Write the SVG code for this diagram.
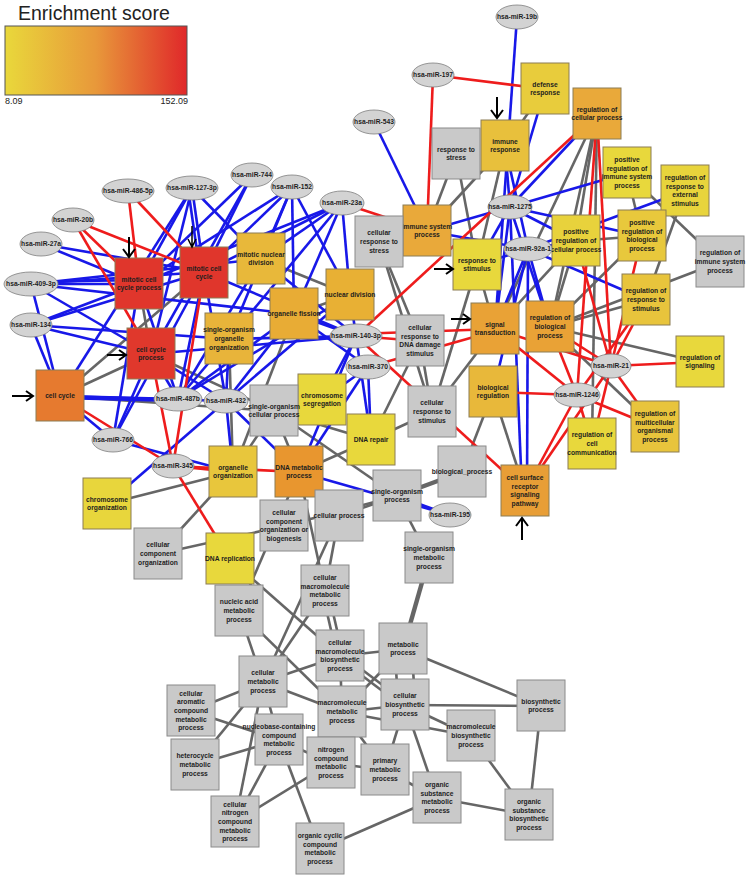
<svg xmlns="http://www.w3.org/2000/svg" width="748" height="879" viewBox="0 0 748 879">
<defs>
<linearGradient id="lg" x1="0" y1="0" x2="1" y2="0">
<stop offset="0" stop-color="#E9D83B"/><stop offset="0.5" stop-color="#E8983A"/><stop offset="1" stop-color="#E0282A"/>
</linearGradient>
</defs>
<style>
.b line{stroke:#1818E8;stroke-width:2.6}
.r line{stroke:#EE1C1C;stroke-width:2.6}
.g line{stroke:#666;stroke-width:2.6}
.go rect{stroke:#8b7d55;stroke-width:1}
.gy rect{fill:#C9C9C9;stroke:#8a8a8a;stroke-width:1}
.mi ellipse{fill:#D3D3D3;stroke:#7d7d7d;stroke-width:0.8}
text{font-family:"Liberation Sans",Arial,sans-serif;font-size:6.7px;font-weight:bold;fill:#1e1e1e;text-anchor:middle}
.lt{font-size:19.5px;font-weight:normal;text-anchor:start;fill:#222}
.ln{font-size:9px;font-weight:normal;fill:#222}
.ar path{stroke:#000;fill:none;stroke-width:2}
</style>
<rect width="748" height="879" fill="#fff"/>
<g id="legend">
<text class="lt" x="18" y="20">Enrichment score</text>
<rect x="5" y="26" width="182" height="69" fill="url(#lg)" stroke="#555" stroke-width="1"/>
<text class="ln" x="5" y="104" style="text-anchor:start">8.09</text>
<text class="ln" x="188" y="104" style="text-anchor:end">152.09</text>
</g>
<g id="edges">
<g class="g">
<line x1="60" y1="396" x2="151" y2="354"/><line x1="139" y1="284" x2="151" y2="354"/><line x1="60" y1="396" x2="204" y2="272"/>
<line x1="261" y1="259" x2="350" y2="295"/><line x1="294" y1="314" x2="350" y2="295"/><line x1="229" y1="339" x2="233" y2="472"/>
<line x1="294" y1="314" x2="233" y2="472"/><line x1="60" y1="396" x2="274" y2="411"/><line x1="151" y1="354" x2="274" y2="411"/>
<line x1="233" y1="472" x2="107" y2="504"/><line x1="233" y1="472" x2="158" y2="554"/><line x1="158" y1="554" x2="284" y2="526"/>
<line x1="233" y1="472" x2="274" y2="411"/><line x1="274" y1="411" x2="397" y2="496"/><line x1="274" y1="411" x2="299" y2="472"/>
<line x1="274" y1="411" x2="371" y2="440"/><line x1="371" y1="440" x2="299" y2="472"/><line x1="420" y1="341" x2="371" y2="440"/>
<line x1="432" y1="412" x2="371" y2="440"/><line x1="420" y1="341" x2="432" y2="412"/><line x1="379" y1="242" x2="420" y2="341"/>
<line x1="379" y1="242" x2="432" y2="412"/><line x1="456" y1="154" x2="427" y2="231"/><line x1="456" y1="154" x2="477" y2="265"/>
<line x1="505" y1="146" x2="427" y2="231"/><line x1="545" y1="89" x2="505" y2="146"/><line x1="505" y1="146" x2="477" y2="265"/>
<line x1="477" y1="265" x2="432" y2="412"/><line x1="432" y1="412" x2="495" y2="329"/><line x1="477" y1="265" x2="495" y2="329"/>
<line x1="597" y1="114" x2="576" y2="241"/><line x1="597" y1="114" x2="550" y2="327"/><line x1="597" y1="114" x2="592" y2="444"/>
<line x1="597" y1="114" x2="495" y2="329"/><line x1="576" y1="241" x2="495" y2="329"/><line x1="576" y1="241" x2="642" y2="236"/>
<line x1="627" y1="173" x2="642" y2="236"/><line x1="627" y1="173" x2="720" y2="262"/><line x1="685" y1="191" x2="646" y2="300"/>
<line x1="720" y1="262" x2="550" y2="327"/><line x1="642" y1="236" x2="550" y2="327"/><line x1="576" y1="241" x2="550" y2="327"/>
<line x1="646" y1="300" x2="550" y2="327"/><line x1="550" y1="327" x2="700" y2="362"/><line x1="550" y1="327" x2="655" y2="427"/>
<line x1="493" y1="392" x2="525" y2="491"/><line x1="462" y1="472" x2="493" y2="392"/>
<line x1="397" y1="496" x2="462" y2="472" style="stroke-width:4.5"/><line x1="397" y1="496" x2="429" y2="558"/>
<line x1="429" y1="558" x2="403" y2="649" style="stroke-width:4.5"/>
<line x1="299" y1="472" x2="325" y2="591"/><line x1="299" y1="472" x2="239" y2="611"/><line x1="339" y1="516" x2="325" y2="591"/>
<line x1="339" y1="516" x2="397" y2="496"/><line x1="284" y1="526" x2="397" y2="496"/><line x1="230" y1="559" x2="340" y2="656"/>
<line x1="239" y1="611" x2="263" y2="682"/><line x1="239" y1="611" x2="342" y2="712"/><line x1="325" y1="591" x2="263" y2="682"/>
<line x1="339" y1="516" x2="263" y2="682"/><line x1="322" y1="591" x2="337" y2="656"/><line x1="328" y1="591" x2="343" y2="656"/>
<line x1="263" y1="682" x2="191" y2="711"/><line x1="263" y1="682" x2="195" y2="765"/><line x1="263" y1="682" x2="235" y2="822"/>
<line x1="191" y1="711" x2="279" y2="740"/><line x1="195" y1="765" x2="279" y2="740"/><line x1="263" y1="682" x2="340" y2="656"/>
<line x1="263" y1="682" x2="342" y2="712"/><line x1="263" y1="682" x2="279" y2="740"/><line x1="340" y1="656" x2="403" y2="649"/>
<line x1="340" y1="653" x2="405" y2="702"/><line x1="340" y1="659" x2="405" y2="708"/><line x1="340" y1="656" x2="342" y2="712"/>
<line x1="342" y1="712" x2="405" y2="705"/><line x1="342" y1="712" x2="471" y2="736"/><line x1="342" y1="712" x2="385" y2="770"/>
<line x1="395" y1="649" x2="398" y2="705"/><line x1="412" y1="649" x2="415" y2="705"/><line x1="403" y1="649" x2="342" y2="712"/>
<line x1="403" y1="649" x2="541" y2="706"/><line x1="405" y1="705" x2="541" y2="706"/><line x1="405" y1="705" x2="471" y2="736"/>
<line x1="405" y1="705" x2="385" y2="770"/><line x1="405" y1="705" x2="437" y2="798"/><line x1="471" y1="736" x2="529" y2="815"/>
<line x1="541" y1="706" x2="529" y2="815"/><line x1="437" y1="798" x2="529" y2="815"/><line x1="385" y1="770" x2="437" y2="798"/>
<line x1="279" y1="740" x2="331" y2="763"/><line x1="331" y1="763" x2="385" y2="770"/><line x1="331" y1="763" x2="235" y2="822"/>
<line x1="279" y1="740" x2="320" y2="849"/><line x1="320" y1="849" x2="437" y2="798"/><line x1="279" y1="740" x2="235" y2="822"/>
</g>
<g class="b">
<line x1="31" y1="284" x2="139" y2="284"/><line x1="31" y1="282" x2="139" y2="280"/><line x1="31" y1="284" x2="204" y2="272"/><line x1="31" y1="284" x2="261" y2="259"/>
<line x1="31" y1="284" x2="294" y2="314"/><line x1="31" y1="284" x2="151" y2="354"/><line x1="31" y1="284" x2="60" y2="396"/>
<line x1="31" y1="325" x2="60" y2="396"/><line x1="31" y1="325" x2="139" y2="284"/><line x1="31" y1="325" x2="204" y2="272"/>
<line x1="31" y1="325" x2="151" y2="354"/><line x1="31" y1="325" x2="229" y2="339"/>
<line x1="41" y1="244" x2="139" y2="284"/><line x1="41" y1="244" x2="204" y2="272"/>
<line x1="192" y1="188" x2="139" y2="284"/><line x1="192" y1="188" x2="204" y2="272"/><line x1="188" y1="188" x2="200" y2="272"/><line x1="192" y1="188" x2="151" y2="354"/>
<line x1="192" y1="188" x2="60" y2="396"/><line x1="192" y1="188" x2="261" y2="259"/>
<line x1="252" y1="175" x2="204" y2="272"/><line x1="252" y1="175" x2="139" y2="284"/><line x1="252" y1="175" x2="151" y2="354"/>
<line x1="292" y1="187" x2="261" y2="259"/><line x1="292" y1="187" x2="204" y2="272"/><line x1="292" y1="187" x2="139" y2="284"/>
<line x1="292" y1="187" x2="294" y2="314"/><line x1="292" y1="187" x2="350" y2="295"/><line x1="292" y1="187" x2="229" y2="339"/>
<line x1="342" y1="203" x2="261" y2="259"/><line x1="342" y1="203" x2="204" y2="272"/><line x1="342" y1="203" x2="139" y2="284"/>
<line x1="342" y1="203" x2="294" y2="314"/><line x1="342" y1="203" x2="229" y2="339"/><line x1="342" y1="203" x2="350" y2="295"/>
<line x1="178" y1="399" x2="60" y2="396"/><line x1="178" y1="401" x2="60" y2="398"/><line x1="178" y1="399" x2="151" y2="354"/><line x1="178" y1="399" x2="204" y2="272"/>
<line x1="178" y1="399" x2="139" y2="284"/><line x1="178" y1="399" x2="229" y2="339"/><line x1="178" y1="399" x2="294" y2="314"/>
<line x1="178" y1="399" x2="350" y2="295"/><line x1="178" y1="399" x2="261" y2="259"/>
<line x1="226" y1="401" x2="60" y2="396"/><line x1="226" y1="401" x2="151" y2="354"/><line x1="226" y1="401" x2="204" y2="272"/>
<line x1="226" y1="401" x2="229" y2="339"/><line x1="226" y1="401" x2="294" y2="314"/><line x1="226" y1="401" x2="350" y2="295"/>
<line x1="226" y1="401" x2="233" y2="472"/><line x1="226" y1="401" x2="107" y2="504"/><line x1="226" y1="401" x2="299" y2="472"/>
<line x1="113" y1="440" x2="60" y2="396"/><line x1="113" y1="440" x2="151" y2="354"/><line x1="113" y1="440" x2="139" y2="284"/>
<line x1="113" y1="440" x2="204" y2="272"/><line x1="113" y1="440" x2="233" y2="472"/>
<line x1="356" y1="336" x2="294" y2="314"/><line x1="356" y1="336" x2="350" y2="295"/><line x1="356" y1="336" x2="261" y2="259"/>
<line x1="356" y1="336" x2="229" y2="339"/><line x1="356" y1="336" x2="322" y2="400"/><line x1="356" y1="336" x2="151" y2="354"/>
<line x1="356" y1="336" x2="204" y2="272"/><line x1="356" y1="336" x2="299" y2="472"/><line x1="356" y1="336" x2="371" y2="440"/>
<line x1="368" y1="367" x2="322" y2="400"/><line x1="368" y1="367" x2="371" y2="440"/><line x1="368" y1="367" x2="294" y2="314"/>
<line x1="368" y1="367" x2="299" y2="472"/>
<line x1="450" y1="515" x2="397" y2="496"/><line x1="450" y1="515" x2="299" y2="472"/>
<line x1="374" y1="122" x2="427" y2="231"/>
<line x1="517" y1="17" x2="495" y2="329"/>
<line x1="510" y1="207" x2="427" y2="231"/><line x1="510" y1="207" x2="477" y2="265"/><line x1="510" y1="207" x2="505" y2="146"/>
<line x1="510" y1="207" x2="545" y2="89"/><line x1="510" y1="207" x2="627" y2="173"/><line x1="510" y1="207" x2="576" y2="241"/>
<line x1="510" y1="207" x2="642" y2="236"/><line x1="510" y1="207" x2="597" y2="114"/><line x1="510" y1="207" x2="495" y2="329"/>
<line x1="510" y1="207" x2="550" y2="327"/><line x1="510" y1="207" x2="522" y2="491"/>
<line x1="528" y1="249" x2="427" y2="231"/><line x1="528" y1="249" x2="477" y2="265"/><line x1="528" y1="249" x2="505" y2="146"/>
<line x1="528" y1="249" x2="495" y2="329"/><line x1="528" y1="249" x2="550" y2="327"/><line x1="528" y1="249" x2="527" y2="491"/>
<line x1="528" y1="249" x2="493" y2="392"/><line x1="528" y1="249" x2="576" y2="241"/><line x1="528" y1="249" x2="685" y2="191"/>
<line x1="528" y1="249" x2="646" y2="300"/>
</g>
<g class="r">
<line x1="128" y1="191" x2="139" y2="284"/><line x1="128" y1="191" x2="204" y2="272"/>
<line x1="73" y1="220" x2="139" y2="284"/><line x1="73" y1="220" x2="151" y2="354"/><line x1="73" y1="220" x2="204" y2="272"/>
<line x1="342" y1="203" x2="427" y2="231"/>
<line x1="433" y1="75" x2="427" y2="231"/><line x1="433" y1="75" x2="545" y2="89"/>
<line x1="356" y1="336" x2="597" y2="114"/><line x1="356" y1="336" x2="420" y2="341"/><line x1="356" y1="334" x2="495" y2="329"/>
<line x1="356" y1="336" x2="525" y2="491"/>
<line x1="368" y1="367" x2="495" y2="331"/>
<line x1="173" y1="466" x2="233" y2="472"/><line x1="173" y1="466" x2="151" y2="354"/><line x1="173" y1="466" x2="204" y2="272"/>
<line x1="173" y1="466" x2="230" y2="559"/><line x1="173" y1="466" x2="60" y2="396"/><line x1="173" y1="466" x2="299" y2="472"/>
<line x1="611" y1="366" x2="700" y2="362"/><line x1="611" y1="366" x2="655" y2="427"/><line x1="611" y1="366" x2="592" y2="444"/>
<line x1="611" y1="366" x2="646" y2="300"/><line x1="611" y1="366" x2="550" y2="327"/><line x1="611" y1="366" x2="642" y2="236"/>
<line x1="611" y1="366" x2="597" y2="114"/><line x1="611" y1="366" x2="495" y2="329"/><line x1="611" y1="366" x2="525" y2="491"/>
<line x1="611" y1="366" x2="576" y2="241"/>
<line x1="577" y1="395" x2="493" y2="392"/><line x1="577" y1="395" x2="525" y2="491"/><line x1="577" y1="395" x2="597" y2="114"/>
<line x1="577" y1="395" x2="646" y2="300"/><line x1="577" y1="395" x2="655" y2="427"/><line x1="577" y1="395" x2="495" y2="329"/>
<line x1="577" y1="395" x2="550" y2="327"/><line x1="577" y1="395" x2="592" y2="444"/>
</g>
</g>
<g id="nodes">
<g id="n-mccp" class="go"><rect x="115" y="258" width="48" height="51" fill="#E0362C"/><text x="139" y="281.6">mitotic cell<tspan x="139" dy="8.6">cycle process</tspan></text></g>
<g id="n-mcc" class="go"><rect x="180" y="247" width="48" height="51" fill="#E0362C"/><text x="204" y="270.6">mitotic cell<tspan x="204" dy="8.6">cycle</tspan></text></g>
<g id="n-mnd" class="go"><rect x="237" y="233" width="48" height="51" fill="#E8B83A"/><text x="261" y="256.6">mitotic nuclear<tspan x="261" dy="8.6">division</tspan></text></g>
<g id="n-of" class="go"><rect x="270" y="288" width="48" height="51" fill="#E8AC35"/><text x="294" y="315.9">organelle fission</text></g>
<g id="n-nd" class="go"><rect x="326" y="269" width="48" height="51" fill="#E8B034"/><text x="350" y="296.9">nuclear division</text></g>
<g id="n-sooo" class="go"><rect x="205" y="313" width="48" height="51" fill="#E8B43A"/><text x="229" y="332.3">single-organism<tspan x="229" dy="8.6">organelle</tspan><tspan x="229" dy="8.6">organization</tspan></text></g>
<g id="n-ccp" class="go"><rect x="127" y="328" width="48" height="51" fill="#E0382C"/><text x="151" y="351.6">cell cycle<tspan x="151" dy="8.6">process</tspan></text></g>
<g id="n-cc" class="go"><rect x="36" y="370" width="48" height="51" fill="#E67A2F"/><text x="60" y="397.9">cell cycle</text></g>
<g id="n-cs" class="go"><rect x="298" y="374" width="48" height="51" fill="#E8D83C"/><text x="322" y="397.6">chromosome<tspan x="322" dy="8.6">segregation</tspan></text></g>
<g id="n-socp" class="gy"><rect x="250" y="385" width="48" height="51"/><text x="274" y="408.6">single-organism<tspan x="274" dy="8.6">cellular process</tspan></text></g>
<g id="n-dnarep" class="go"><rect x="347" y="414" width="48" height="51" fill="#E8D83C"/><text x="371" y="441.9">DNA repair</text></g>
<g id="n-dnamp" class="go"><rect x="275" y="446" width="48" height="51" fill="#E8962F"/><text x="299" y="469.6">DNA metabolic<tspan x="299" dy="8.6">process</tspan></text></g>
<g id="n-oo" class="go"><rect x="209" y="446" width="48" height="51" fill="#E8C63C"/><text x="233" y="469.6">organelle<tspan x="233" dy="8.6">organization</tspan></text></g>
<g id="n-co" class="go"><rect x="83" y="478" width="48" height="51" fill="#E8D63C"/><text x="107" y="501.6">chromosome<tspan x="107" dy="8.6">organization</tspan></text></g>
<g id="n-cco" class="gy"><rect x="134" y="528" width="48" height="51"/><text x="158" y="547.3">cellular<tspan x="158" dy="8.6">component</tspan><tspan x="158" dy="8.6">organization</tspan></text></g>
<g id="n-dnarepl" class="go"><rect x="206" y="533" width="48" height="51" fill="#E8D83C"/><text x="230" y="560.9">DNA replication</text></g>
<g id="n-ccob" class="gy"><rect x="260" y="500" width="48" height="51"/><text x="284" y="515">cellular<tspan x="284" dy="8.6">component</tspan><tspan x="284" dy="8.6">organization or</tspan><tspan x="284" dy="8.6">biogenesis</tspan></text></g>
<g id="n-cp" class="gy"><rect x="315" y="490" width="48" height="51"/><text x="339" y="517.9">cellular process</text></g>
<g id="n-sop" class="gy"><rect x="373" y="470" width="48" height="51"/><text x="397" y="493.6">single-organism<tspan x="397" dy="8.6">process</tspan></text></g>
<g id="n-bp" class="gy"><rect x="438" y="446" width="48" height="51"/><text x="462" y="473.9">biological_process</text></g>
<g id="n-somp" class="gy"><rect x="405" y="532" width="48" height="51"/><text x="429" y="551.3">single-organism<tspan x="429" dy="8.6">metabolic</tspan><tspan x="429" dy="8.6">process</tspan></text></g>
<g id="n-crs" class="gy"><rect x="408" y="386" width="48" height="51"/><text x="432" y="405.3">cellular<tspan x="432" dy="8.6">response to</tspan><tspan x="432" dy="8.6">stimulus</tspan></text></g>
<g id="n-crdna" class="gy"><rect x="396" y="315" width="48" height="51"/><text x="420" y="330">cellular<tspan x="420" dy="8.6">response to</tspan><tspan x="420" dy="8.6">DNA damage</tspan><tspan x="420" dy="8.6">stimulus</tspan></text></g>
<g id="n-st" class="go"><rect x="471" y="303" width="48" height="51" fill="#E9A236"/><text x="495" y="326.6">signal<tspan x="495" dy="8.6">transduction</tspan></text></g>
<g id="n-br" class="go"><rect x="469" y="366" width="48" height="51" fill="#E8B83A"/><text x="493" y="389.6">biological<tspan x="493" dy="8.6">regulation</tspan></text></g>
<g id="n-rbp" class="go"><rect x="526" y="301" width="48" height="51" fill="#E9A236"/><text x="550" y="320.3">regulation of<tspan x="550" dy="8.6">biological</tspan><tspan x="550" dy="8.6">process</tspan></text></g>
<g id="n-rrs" class="go"><rect x="622" y="274" width="48" height="51" fill="#E8C43C"/><text x="646" y="293.3">regulation of<tspan x="646" dy="8.6">response to</tspan><tspan x="646" dy="8.6">stimulus</tspan></text></g>
<g id="n-rs" class="go"><rect x="676" y="336" width="48" height="51" fill="#E8D83C"/><text x="700" y="359.6">regulation of<tspan x="700" dy="8.6">signaling</tspan></text></g>
<g id="n-rmop" class="go"><rect x="631" y="401" width="48" height="51" fill="#E8C43C"/><text x="655" y="416">regulation of<tspan x="655" dy="8.6">multicellular</tspan><tspan x="655" dy="8.6">organismal</tspan><tspan x="655" dy="8.6">process</tspan></text></g>
<g id="n-rcc" class="go"><rect x="568" y="418" width="48" height="51" fill="#E8D83C"/><text x="592" y="437.3">regulation of<tspan x="592" dy="8.6">cell</tspan><tspan x="592" dy="8.6">communication</tspan></text></g>
<g id="n-csrsp" class="go"><rect x="501" y="465" width="48" height="51" fill="#E89E36"/><text x="525" y="480">cell surface<tspan x="525" dy="8.6">receptor</tspan><tspan x="525" dy="8.6">signaling</tspan><tspan x="525" dy="8.6">pathway</tspan></text></g>
<g id="n-dr" class="go"><rect x="521" y="63" width="48" height="51" fill="#E8CC3C"/><text x="545" y="86.6">defense<tspan x="545" dy="8.6">response</tspan></text></g>
<g id="n-rcp" class="go"><rect x="573" y="88" width="48" height="51" fill="#E9A93A"/><text x="597" y="111.6">regulation of<tspan x="597" dy="8.6">cellular process</tspan></text></g>
<g id="n-prisp" class="go"><rect x="603" y="147" width="48" height="51" fill="#E8D83C"/><text x="627" y="162">positive<tspan x="627" dy="8.6">regulation of</tspan><tspan x="627" dy="8.6">immune system</tspan><tspan x="627" dy="8.6">process</tspan></text></g>
<g id="n-rres" class="go"><rect x="661" y="165" width="48" height="51" fill="#E8D43C"/><text x="685" y="180">regulation of<tspan x="685" dy="8.6">response to</tspan><tspan x="685" dy="8.6">external</tspan><tspan x="685" dy="8.6">stimulus</tspan></text></g>
<g id="n-prcp" class="go"><rect x="552" y="215" width="48" height="51" fill="#E8D23C"/><text x="576" y="234.3">positive<tspan x="576" dy="8.6">regulation of</tspan><tspan x="576" dy="8.6">cellular process</tspan></text></g>
<g id="n-prbp" class="go"><rect x="618" y="210" width="48" height="51" fill="#E8C83C"/><text x="642" y="225">positive<tspan x="642" dy="8.6">regulation of</tspan><tspan x="642" dy="8.6">biological</tspan><tspan x="642" dy="8.6">process</tspan></text></g>
<g id="n-risp" class="gy"><rect x="696" y="236" width="48" height="51"/><text x="720" y="255.3">regulation of<tspan x="720" dy="8.6">immune system</tspan><tspan x="720" dy="8.6">process</tspan></text></g>
<g id="n-rtstress" class="gy"><rect x="432" y="128" width="48" height="51"/><text x="456" y="151.6">response to<tspan x="456" dy="8.6">stress</tspan></text></g>
<g id="n-ir" class="go"><rect x="481" y="120" width="48" height="51" fill="#E8C03C"/><text x="505" y="143.6">immune<tspan x="505" dy="8.6">response</tspan></text></g>
<g id="n-isp" class="go"><rect x="403" y="205" width="48" height="51" fill="#E9A93A"/><text x="427" y="228.6">immune system<tspan x="427" dy="8.6">process</tspan></text></g>
<g id="n-crstress" class="gy"><rect x="355" y="216" width="48" height="51"/><text x="379" y="235.3">cellular<tspan x="379" dy="8.6">response to</tspan><tspan x="379" dy="8.6">stress</tspan></text></g>
<g id="n-rstim" class="go"><rect x="453" y="239" width="48" height="51" fill="#E8D83C"/><text x="477" y="262.6">response to<tspan x="477" dy="8.6">stimulus</tspan></text></g>
<g id="n-cmmp" class="gy"><rect x="301" y="565" width="48" height="51"/><text x="325" y="580">cellular<tspan x="325" dy="8.6">macromolecule</tspan><tspan x="325" dy="8.6">metabolic</tspan><tspan x="325" dy="8.6">process</tspan></text></g>
<g id="n-namp" class="gy"><rect x="215" y="585" width="48" height="51"/><text x="239" y="604.3">nucleic acid<tspan x="239" dy="8.6">metabolic</tspan><tspan x="239" dy="8.6">process</tspan></text></g>
<g id="n-cmbp" class="gy"><rect x="316" y="630" width="48" height="51"/><text x="340" y="645">cellular<tspan x="340" dy="8.6">macromolecule</tspan><tspan x="340" dy="8.6">biosynthetic</tspan><tspan x="340" dy="8.6">process</tspan></text></g>
<g id="n-cmp" class="gy"><rect x="239" y="656" width="48" height="51"/><text x="263" y="675.3">cellular<tspan x="263" dy="8.6">metabolic</tspan><tspan x="263" dy="8.6">process</tspan></text></g>
<g id="n-cacmp" class="gy"><rect x="167" y="685" width="48" height="51"/><text x="191" y="695.7">cellular<tspan x="191" dy="8.6">aromatic</tspan><tspan x="191" dy="8.6">compound</tspan><tspan x="191" dy="8.6">metabolic</tspan><tspan x="191" dy="8.6">process</tspan></text></g>
<g id="n-mmp" class="gy"><rect x="318" y="686" width="48" height="51"/><text x="342" y="705.3">macromolecule<tspan x="342" dy="8.6">metabolic</tspan><tspan x="342" dy="8.6">process</tspan></text></g>
<g id="n-mp" class="gy"><rect x="379" y="623" width="48" height="51"/><text x="403" y="646.6">metabolic<tspan x="403" dy="8.6">process</tspan></text></g>
<g id="n-cbp" class="gy"><rect x="381" y="679" width="48" height="51"/><text x="405" y="698.3">cellular<tspan x="405" dy="8.6">biosynthetic</tspan><tspan x="405" dy="8.6">process</tspan></text></g>
<g id="n-mbp" class="gy"><rect x="447" y="710" width="48" height="51"/><text x="471" y="729.3">macromolecule<tspan x="471" dy="8.6">biosynthetic</tspan><tspan x="471" dy="8.6">process</tspan></text></g>
<g id="n-bsp" class="gy"><rect x="517" y="680" width="48" height="51"/><text x="541" y="703.6">biosynthetic<tspan x="541" dy="8.6">process</tspan></text></g>
<g id="n-osbp" class="gy"><rect x="505" y="789" width="48" height="51"/><text x="529" y="804">organic<tspan x="529" dy="8.6">substance</tspan><tspan x="529" dy="8.6">biosynthetic</tspan><tspan x="529" dy="8.6">process</tspan></text></g>
<g id="n-osmp" class="gy"><rect x="413" y="772" width="48" height="51"/><text x="437" y="787">organic<tspan x="437" dy="8.6">substance</tspan><tspan x="437" dy="8.6">metabolic</tspan><tspan x="437" dy="8.6">process</tspan></text></g>
<g id="n-pmp" class="gy"><rect x="361" y="744" width="48" height="51"/><text x="385" y="763.3">primary<tspan x="385" dy="8.6">metabolic</tspan><tspan x="385" dy="8.6">process</tspan></text></g>
<g id="n-ncmp" class="gy"><rect x="307" y="737" width="48" height="51"/><text x="331" y="752">nitrogen<tspan x="331" dy="8.6">compound</tspan><tspan x="331" dy="8.6">metabolic</tspan><tspan x="331" dy="8.6">process</tspan></text></g>
<g id="n-nccmp" class="gy"><rect x="255" y="714" width="48" height="51"/><text x="279" y="729">nucleobase-containing<tspan x="279" dy="8.6">compound</tspan><tspan x="279" dy="8.6">metabolic</tspan><tspan x="279" dy="8.6">process</tspan></text></g>
<g id="n-hmp" class="gy"><rect x="171" y="739" width="48" height="51"/><text x="195" y="758.3">heterocycle<tspan x="195" dy="8.6">metabolic</tspan><tspan x="195" dy="8.6">process</tspan></text></g>
<g id="n-cncmp" class="gy"><rect x="211" y="796" width="48" height="51"/><text x="235" y="806.7">cellular<tspan x="235" dy="8.6">nitrogen</tspan><tspan x="235" dy="8.6">compound</tspan><tspan x="235" dy="8.6">metabolic</tspan><tspan x="235" dy="8.6">process</tspan></text></g>
<g id="n-occmp" class="gy"><rect x="296" y="823" width="48" height="51"/><text x="320" y="838">organic cyclic<tspan x="320" dy="8.6">compound</tspan><tspan x="320" dy="8.6">metabolic</tspan><tspan x="320" dy="8.6">process</tspan></text></g>
<g id="m-19b" class="mi"><ellipse cx="517" cy="17" rx="21" ry="12"/><text x="517" y="19.4">hsa-miR-19b</text></g>
<g id="m-197" class="mi"><ellipse cx="433" cy="75" rx="21" ry="12"/><text x="433" y="77.4">hsa-miR-197</text></g>
<g id="m-543" class="mi"><ellipse cx="374" cy="122" rx="21" ry="12"/><text x="374" y="124.4">hsa-miR-543</text></g>
<g id="m-486" class="mi"><ellipse cx="128" cy="191" rx="26" ry="12"/><text x="128" y="193.4">hsa-miR-486-5p</text></g>
<g id="m-127" class="mi"><ellipse cx="192" cy="188" rx="26" ry="12"/><text x="192" y="190.4">hsa-miR-127-3p</text></g>
<g id="m-744" class="mi"><ellipse cx="252" cy="175" rx="21" ry="12"/><text x="252" y="177.4">hsa-miR-744</text></g>
<g id="m-152" class="mi"><ellipse cx="292" cy="187" rx="21" ry="12"/><text x="292" y="189.4">hsa-miR-152</text></g>
<g id="m-23a" class="mi"><ellipse cx="342" cy="203" rx="22" ry="12"/><text x="342" y="205.4">hsa-miR-23a</text></g>
<g id="m-20b" class="mi"><ellipse cx="73" cy="220" rx="21" ry="12"/><text x="73" y="222.4">hsa-miR-20b</text></g>
<g id="m-27a" class="mi"><ellipse cx="41" cy="244" rx="21" ry="12"/><text x="41" y="246.4">hsa-miR-27a</text></g>
<g id="m-409" class="mi"><ellipse cx="31" cy="284" rx="27" ry="12"/><text x="31" y="286.4">hsa-miR-409-3p</text></g>
<g id="m-134" class="mi"><ellipse cx="31" cy="325" rx="21" ry="12"/><text x="31" y="327.4">hsa-miR-134</text></g>
<g id="m-1275" class="mi"><ellipse cx="510" cy="207" rx="22" ry="12"/><text x="510" y="209.4">hsa-miR-1275</text></g>
<g id="m-92a" class="mi"><ellipse cx="528" cy="249" rx="24" ry="12"/><text x="528" y="251.4">hsa-miR-92a-1</text></g>
<g id="m-140" class="mi"><ellipse cx="356" cy="336" rx="26" ry="12"/><text x="356" y="338.4">hsa-miR-140-3p</text></g>
<g id="m-370" class="mi"><ellipse cx="368" cy="367" rx="22" ry="12"/><text x="368" y="369.4">hsa-miR-370</text></g>
<g id="m-487b" class="mi"><ellipse cx="178" cy="399" rx="24" ry="12"/><text x="178" y="401.4">hsa-miR-487b</text></g>
<g id="m-432" class="mi"><ellipse cx="226" cy="401" rx="22" ry="12"/><text x="226" y="403.4">hsa-miR-432</text></g>
<g id="m-766" class="mi"><ellipse cx="113" cy="440" rx="21" ry="12"/><text x="113" y="442.4">hsa-miR-766</text></g>
<g id="m-345" class="mi"><ellipse cx="173" cy="466" rx="21" ry="12"/><text x="173" y="468.4">hsa-miR-345</text></g>
<g id="m-195" class="mi"><ellipse cx="450" cy="515" rx="21" ry="12"/><text x="450" y="517.4">hsa-miR-195</text></g>
<g id="m-21" class="mi"><ellipse cx="611" cy="366" rx="20" ry="12"/><text x="611" y="368.4">hsa-miR-21</text></g>
<g id="m-1246" class="mi"><ellipse cx="577" cy="395" rx="23" ry="12"/><text x="577" y="397.4">hsa-miR-1246</text></g>
</g>
<g id="arrows" class="ar">
<path d="M129,237 V256 M123,249 L129,257 L135,249"/>
<path d="M192,226 V246 M188,239 L192,247 L196,239" style="stroke-width:1.5"/>
<path d="M107,355 H126 M119,350 L126,355 L119,360"/>
<path d="M12,396 H33 M26,391 L33,396 L26,401"/>
<path d="M497,97 V118 M491,110 L497,118 L503,110"/>
<path d="M434,269 H453 M446,264 L453,269 L446,274"/>
<path d="M451,319 H470 M463,314 L470,319 L463,324"/>
<path d="M522,540 V518 M516,526 L522,518 L528,526"/>
</g>
</svg>
